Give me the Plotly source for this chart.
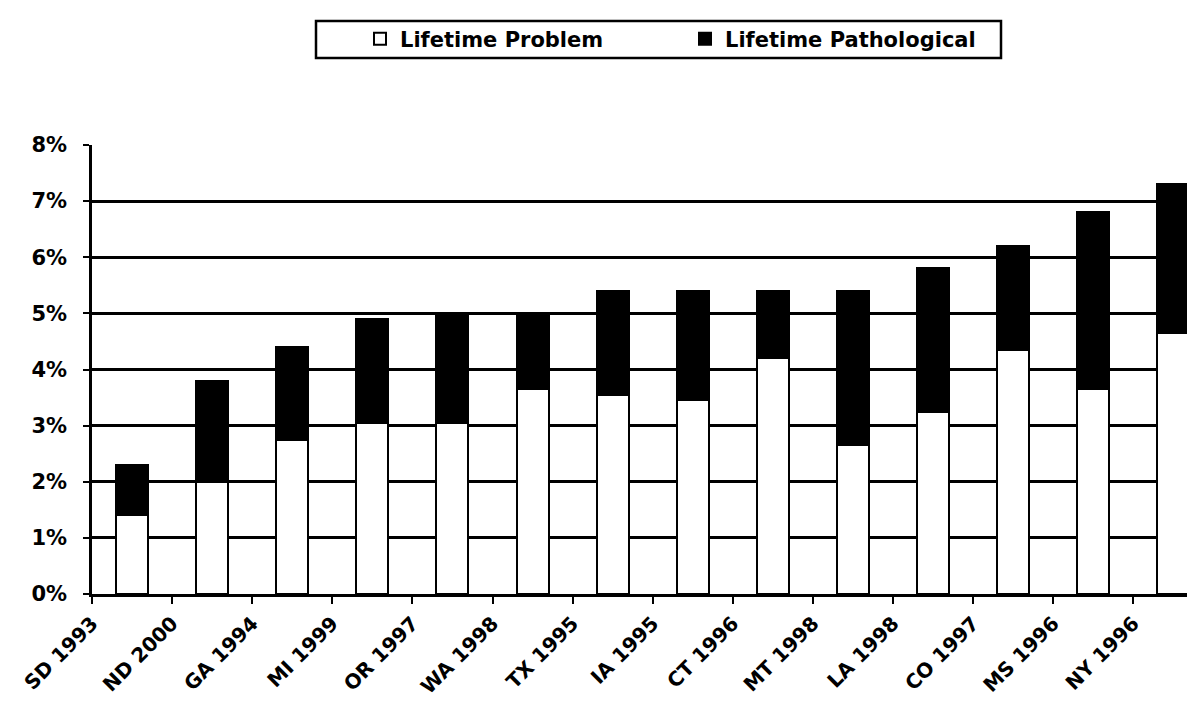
import plotly.graph_objects as go

categories = ["SD 1993", "ND 2000", "GA 1994", "MI 1999", "OR 1997", "WA 1998", "TX 1995",
              "IA 1995", "CT 1996", "MT 1998", "LA 1998", "CO 1997", "MS 1996", "NY 1996"]
lifetime_problem = [1.40, 2.00, 2.75, 3.05, 3.05, 3.65, 3.55, 3.45, 4.20, 2.65, 3.25, 4.35, 3.65, 4.65]
lifetime_pathological = [0.90, 1.80, 1.65, 1.85, 1.95, 1.35, 1.85, 1.95, 1.20, 2.75, 2.55, 1.85, 3.15, 2.65]
y_ticks = [0, 1, 2, 3, 4, 5, 6, 7, 8]

idx = list(range(len(categories)))
bar_x = [i + 0.5 for i in idx]

FONT = "DejaVu Sans"

fig = go.Figure()
fig.add_trace(go.Bar(
    x=bar_x, y=[v / 100 for v in lifetime_problem], name="Lifetime Problem",
    width=0.4, marker=dict(color="white", line=dict(color="black", width=2)),
))
fig.add_trace(go.Bar(
    x=bar_x, y=[v / 100 for v in lifetime_pathological], name="Lifetime Pathological",
    width=0.4, marker=dict(color="black", line=dict(color="black", width=2)),
))

L, T, B = 84, 137, 120
W, H = 1195, 706
pw = W - L
ph = H - T - B

def px_x(p):
    return (p - L) / pw

def px_y(p):
    return (H - B - p) / ph

fig.update_layout(
    width=W, height=H,
    margin=dict(l=L, r=0, t=T, b=B, pad=0),
    barmode="stack",
    plot_bgcolor="white", paper_bgcolor="white",
    font=dict(family=FONT, size=20, color="black", weight="bold"),
    showlegend=True,
    legend=dict(
        orientation="h", x=px_x(352), xanchor="left", y=px_y(31), yanchor="middle",
        bgcolor="rgba(0,0,0,0)", borderwidth=0, traceorder="normal",
        font=dict(family=FONT, size=21, color="black", weight="bold"),
        entrywidth=280, itemwidth=30,
    ),
    shapes=[dict(type="rect", xref="paper", yref="paper",
                 x0=px_x(308), x1=px_x(993), y0=px_y(50), y1=px_y(13),
                 line=dict(color="black", width=2.5), fillcolor="rgba(0,0,0,0)", layer="above")],
    bargap=0,
)

fig.update_xaxes(
    range=[0, (W - L) / 80.1],
    tickvals=idx, ticktext=categories, tickangle=-45,
    ticks="outside", ticklen=7, tickwidth=2, tickcolor="black",
    showline=True, linecolor="black", linewidth=2.5,
    showgrid=False, zeroline=False,
    tickfont=dict(family=FONT, size=20, color="black", weight="bold"),
)
fig.update_yaxes(
    range=[0, 0.08],
    tickvals=[t / 100 for t in y_ticks], tickformat=".0%",
    ticks="outside", ticklen=6, tickwidth=2, tickcolor="black",
    showline=True, linecolor="black", linewidth=2.5,
    showgrid=True, gridcolor="black", gridwidth=2.5,
    zeroline=False, ticklabelstandoff=12,
    tickfont=dict(family=FONT, size=21, color="black", weight="bold"),
)

fig.write_html("out.html")
